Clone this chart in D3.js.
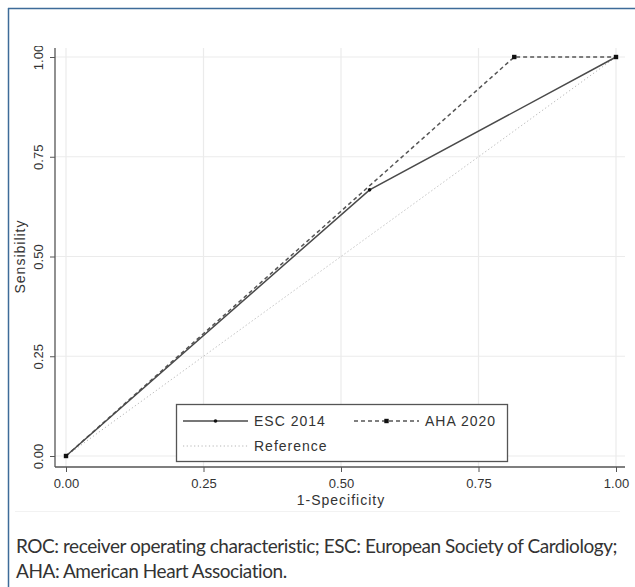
<!DOCTYPE html>
<html>
<head>
<meta charset="utf-8">
<script src="https://cdn.jsdelivr.net/npm/d3@7"></script>
<style>
  body { margin: 0; background: #fff; }
  svg { display: block; }
</style>
</head>
<body>
<div id="chart"></div>
<script>
// ROC points
const escX = [0, 0.552, 1];
const escY = [0, 0.667, 1];
const ahaX = [0, 0.815, 1];
const ahaY = [0, 1, 1];
const refX = [0, 1];
const refY = [0, 1];
const ticks = [0, 0.25, 0.5, 0.75, 1];
const captionLines = [
  "ROC: receiver operating characteristic; ESC: European Society of Cardiology;",
  "AHA: American Heart Association."
];

const W = 635, H = 587;
const svg = d3.select("#chart").append("svg")
  .attr("width", W)
  .attr("height", H);

// figure frame (top and left blue rule)
svg.append("line").attr("x1", 8).attr("y1", 8.5).attr("x2", W).attr("y2", 8.5)
  .attr("stroke", "#3d6b99").attr("stroke-width", 1.5);
svg.append("line").attr("x1", 8.5).attr("y1", 8).attr("x2", 8.5).attr("y2", H)
  .attr("stroke", "#3d6b99").attr("stroke-width", 1.5);

// clip the chart picture like the original crop
svg.append("clipPath").attr("id", "clip")
  .append("rect").attr("x", 10).attr("y", 46).attr("width", 625).attr("height", 470);

const g = svg.append("g").attr("clip-path", "url(#clip)");

const x = d3.scaleLinear().domain([0, 1]).range([66, 616]);
const y = d3.scaleLinear().domain([0, 1]).range([456, 57]);

const axisLeftX = 55, axisBottomY = 467;
const sans = "Liberation Sans, Arial, sans-serif";

// gridlines
g.selectAll(".vgrid").data(ticks).join("line")
  .attr("x1", d => x(d)).attr("x2", d => x(d))
  .attr("y1", 48).attr("y2", axisBottomY)
  .attr("stroke", "#ebebeb").attr("stroke-width", 1.2);
g.selectAll(".hgrid").data(ticks).join("line")
  .attr("x1", axisLeftX).attr("x2", 625)
  .attr("y1", d => y(d)).attr("y2", d => y(d))
  .attr("stroke", "#ebebeb").attr("stroke-width", 1.2);

// axes
const xAxis = g.append("g")
  .attr("transform", `translate(0,${axisBottomY})`)
  .call(d3.axisBottom(x).tickValues(ticks).tickFormat(d3.format(".2f")).tickSize(5).tickSizeOuter(0));
xAxis.select(".domain").attr("d", `M${axisLeftX},0H625`).attr("stroke", "#555").attr("stroke-width", 1.3);
xAxis.selectAll(".tick line").attr("stroke", "#555");
xAxis.selectAll(".tick text")
  .attr("y", 12)
  .attr("fill", "#333")
  .style("font-family", sans)
  .style("font-size", "13px");

const yAxis = g.append("g")
  .attr("transform", `translate(${axisLeftX},0)`)
  .call(d3.axisLeft(y).tickValues(ticks).tickFormat(d3.format(".2f")).tickSize(5).tickSizeOuter(0));
yAxis.select(".domain").attr("d", `M0,48V${axisBottomY}`).attr("stroke", "#555").attr("stroke-width", 1.3);
yAxis.selectAll(".tick line").attr("stroke", "#555");
yAxis.selectAll(".tick text")
  .attr("x", 0).attr("dy", 0)
  .attr("transform", "translate(-12,0) rotate(-90)")
  .attr("text-anchor", "middle")
  .attr("fill", "#333")
  .style("font-family", sans)
  .style("font-size", "13px");

// axis titles
g.append("text")
  .attr("x", x(0.5)).attr("y", 505)
  .attr("text-anchor", "middle")
  .attr("fill", "#333")
  .style("font-family", sans)
  .style("font-size", "14px")
  .style("letter-spacing", "1px")
  .text("1-Specificity");
g.append("text")
  .attr("transform", `translate(25,${y(0.5)}) rotate(-90)`)
  .attr("text-anchor", "middle")
  .attr("fill", "#333")
  .style("font-family", sans)
  .style("font-size", "14px")
  .style("letter-spacing", "1px")
  .text("Sensibility");

// faint separator under chart
svg.append("line").attr("x1", 15).attr("x2", 620).attr("y1", 511.5).attr("y2", 511.5)
  .attr("stroke", "#f2f2f2").attr("stroke-width", 1);

const line = d3.line().x(d => x(d[0])).y(d => y(d[1]));
const refPts = refX.map((v, i) => [v, refY[i]]);
const escPts = escX.map((v, i) => [v, escY[i]]);
const ahaPts = ahaX.map((v, i) => [v, ahaY[i]]);

g.append("path").datum(refPts).attr("d", line)
  .attr("fill", "none").attr("stroke", "#b5b5b5").attr("stroke-width", 1)
  .attr("stroke-dasharray", "1.2,2.5");
g.append("path").datum(ahaPts).attr("d", line)
  .attr("fill", "none").attr("stroke", "#555").attr("stroke-width", 1.5)
  .attr("stroke-dasharray", "4,3");
g.append("path").datum(escPts).attr("d", line)
  .attr("fill", "none").attr("stroke", "#4a4a4a").attr("stroke-width", 1.5);

g.selectAll(".ahaPt").data(ahaPts).join("rect")
  .attr("x", d => x(d[0]) - 2.2).attr("y", d => y(d[1]) - 2.2)
  .attr("width", 4.4).attr("height", 4.4).attr("fill", "#111");
g.selectAll(".escPt").data(escPts).join("circle")
  .attr("cx", d => x(d[0])).attr("cy", d => y(d[1]))
  .attr("r", 1.8).attr("fill", "#111");

// legend
const lg = g.append("g");
lg.append("rect").attr("x", 176.5).attr("y", 404.5).attr("width", 331).attr("height", 57)
  .attr("fill", "#fff").attr("stroke", "#555").attr("stroke-width", 1.3);
const lgFont = sel => sel.attr("fill", "#333")
  .style("font-family", sans).style("font-size", "14px").style("letter-spacing", "1px");

lg.append("line").attr("x1", 183).attr("x2", 248).attr("y1", 421).attr("y2", 421)
  .attr("stroke", "#4a4a4a").attr("stroke-width", 1.5);
lg.append("circle").attr("cx", 215.5).attr("cy", 421).attr("r", 1.8).attr("fill", "#111");
lg.append("text").attr("x", 254).attr("y", 426).text("ESC 2014").call(lgFont);

lg.append("line").attr("x1", 354).attr("x2", 419).attr("y1", 421).attr("y2", 421)
  .attr("stroke", "#555").attr("stroke-width", 1.5).attr("stroke-dasharray", "4,3");
lg.append("rect").attr("x", 384.3).attr("y", 418.8).attr("width", 4.4).attr("height", 4.4).attr("fill", "#111");
lg.append("text").attr("x", 425).attr("y", 426).text("AHA 2020").call(lgFont);

lg.append("line").attr("x1", 183).attr("x2", 248).attr("y1", 446).attr("y2", 446)
  .attr("stroke", "#b5b5b5").attr("stroke-width", 1).attr("stroke-dasharray", "1.2,2.5");
lg.append("text").attr("x", 254).attr("y", 451).text("Reference").call(lgFont);

// caption
svg.selectAll(".cap").data(captionLines).join("text")
  .attr("x", 16)
  .attr("y", (d, i) => 553 + i * 25)
  .attr("fill", "#333")
  .style("font-family", "Lato, sans-serif")
  .style("font-size", "19px")
  .style("letter-spacing", "-0.45px")
  .text(d => d);
</script>
</body>
</html>
